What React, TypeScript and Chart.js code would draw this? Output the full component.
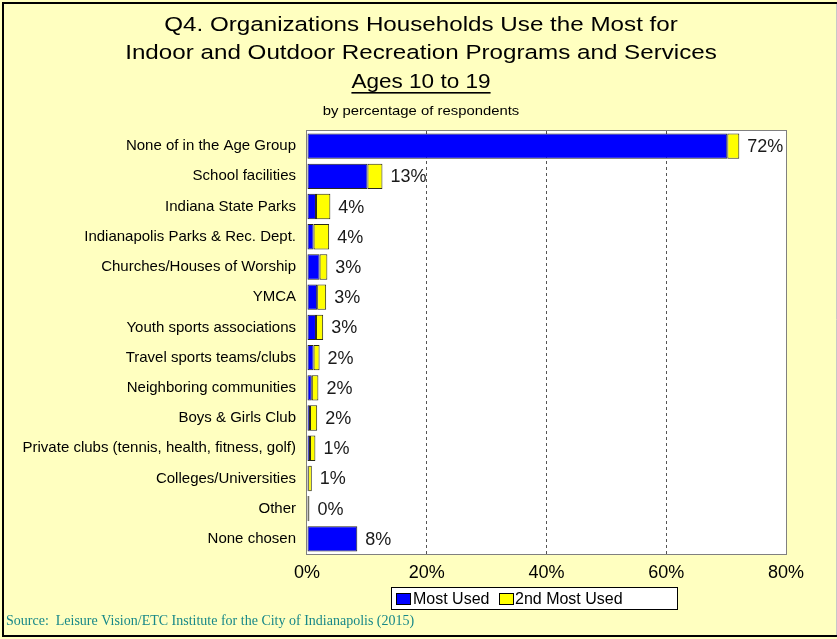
import React, { useEffect, useRef } from "react";
import { Chart, registerables } from "chart.js";

Chart.register(...registerables);

const categories = [
  "None of in the Age Group",
  "School facilities",
  "Indiana State Parks",
  "Indianapolis Parks & Rec. Dept.",
  "Churches/Houses of Worship",
  "YMCA",
  "Youth sports associations",
  "Travel sports teams/clubs",
  "Neighboring communities",
  "Boys & Girls Club",
  "Private clubs (tennis, health, fitness, golf)",
  "Colleges/Universities",
  "Other",
  "None chosen",
];
const mostUsed = [70.2, 10.1, 1.5, 1.1, 2.1, 1.7, 1.5, 1.1, 0.8, 0.5, 0.5, 0.2, 0.2, 8.4];
const secondMostUsed = [2.0, 2.5, 2.4, 2.6, 1.3, 1.5, 1.2, 1.0, 1.1, 1.2, 0.9, 0.6, 0.2, 0];
const xMin = 0;
const xMax = 80;
const xStep = 20;
const titleLines = [
  "Q4. Organizations Households Use the Most for",
  "Indoor and Outdoor Recreation Programs and Services",
];
const titleUnderlined = "Ages 10 to 19";
const subtitle = "by percentage of respondents";
const seriesNames = ["Most Used", "2nd Most Used"];
const sourceText = "Source:  Leisure Vision/ETC Institute for the City of Indianapolis (2015)";

const W = 837;
const H = 639;
const BG = "#FFFFC0";
const BLUE = "#0000FF";
const YELLOW = "#FFFF00";
const SANS = "'Liberation Sans', Arial, sans-serif";
const SERIF = "'Liberation Serif', 'Times New Roman', serif";

function stretchedText(ctx: CanvasRenderingContext2D, text: string, cx: number, baseline: number, sx: number) {
  ctx.save();
  ctx.translate(cx, baseline);
  ctx.scale(sx, 1);
  ctx.textAlign = "center";
  ctx.textBaseline = "alphabetic";
  ctx.fillText(text, 0, 0);
  const w = ctx.measureText(text).width * sx;
  ctx.restore();
  return w;
}

const decorPlugin = {
  id: "decor",
  beforeDraw(chart: any) {
    const ctx: CanvasRenderingContext2D = chart.ctx;
    const a = chart.chartArea;
    ctx.save();
    ctx.fillStyle = BG;
    ctx.fillRect(0, 0, W, H);
    ctx.strokeStyle = "#000";
    ctx.lineWidth = 2;
    ctx.beginPath();
    ctx.moveTo(W, 3);
    ctx.lineTo(3, 3);
    ctx.lineTo(3, 636);
    ctx.lineTo(W, 636);
    ctx.stroke();
    ctx.strokeStyle = "#c8c8c8";
    ctx.lineWidth = 1;
    ctx.beginPath();
    ctx.moveTo(W - 0.5, 4);
    ctx.lineTo(W - 0.5, 635);
    ctx.stroke();
    ctx.fillStyle = "#fff";
    ctx.fillRect(a.left, a.top, a.right - a.left, a.bottom - a.top);
    ctx.restore();
  },
  afterDatasetsDraw(chart: any) {
    const ctx: CanvasRenderingContext2D = chart.ctx;
    const a = chart.chartArea;
    ctx.save();
    ctx.strokeStyle = "#808080";
    ctx.lineWidth = 1;
    ctx.strokeRect(Math.round(a.left) - 0.5, Math.round(a.top) - 0.5, Math.round(a.right - a.left) + 1, Math.round(a.bottom - a.top) + 1);
    const m0 = chart.getDatasetMeta(0);
    const m1 = chart.getDatasetMeta(1);
    ctx.fillStyle = "#1a1a1a";
    ctx.font = `18px ${SANS}`;
    ctx.textAlign = "left";
    ctx.textBaseline = "middle";
    categories.forEach((_, i) => {
      const e0 = m0.data[i];
      const e1 = m1.data[i];
      const x = Math.max(e0.x, e1.x);
      const total = mostUsed[i] + secondMostUsed[i];
      ctx.fillText(`${Math.round(total)}%`, x + 8, e0.y + 1);
    });
    ctx.restore();
  },
  afterDraw(chart: any) {
    const ctx: CanvasRenderingContext2D = chart.ctx;
    ctx.save();
    ctx.fillStyle = "#000";
    ctx.font = `20.5px ${SANS}`;
    const cx = 421;
    stretchedText(ctx, titleLines[0], cx, 31, 1.18);
    stretchedText(ctx, titleLines[1], cx, 59, 1.18);
    const uw = stretchedText(ctx, titleUnderlined, cx, 88, 1.1);
    ctx.fillRect(cx - uw / 2, 92, uw, 1.6);
    ctx.font = `13.5px ${SANS}`;
    stretchedText(ctx, subtitle, cx, 115, 1.1);

    // legend
    ctx.fillStyle = "#fff";
    ctx.fillRect(391, 587, 287, 22);
    ctx.strokeStyle = "#000";
    ctx.lineWidth = 1;
    ctx.strokeRect(391.5, 587.5, 286, 22);
    const items = [
      { x: 396, color: BLUE, tx: 412 },
      { x: 499, color: YELLOW, tx: 514 },
    ];
    ctx.font = `16px ${SANS}`;
    ctx.textAlign = "left";
    ctx.textBaseline = "alphabetic";
    items.forEach((it, i) => {
      ctx.fillStyle = it.color;
      ctx.fillRect(it.x, 593, 14, 11);
      ctx.strokeStyle = "#000";
      ctx.strokeRect(it.x + 0.5, 593.5, 14, 11);
      ctx.fillStyle = "#000";
      ctx.fillText(seriesNames[i], it.tx + 1, 604);
    });

    // source
    ctx.fillStyle = "#178888";
    ctx.font = `14px ${SERIF}`;
    ctx.fillText(sourceText, 6, 625);
    ctx.restore();
  },
};

export default function App() {
  const ref = useRef<HTMLCanvasElement | null>(null);
  useEffect(() => {
    if (!ref.current) return;
    const chart = new Chart(ref.current, {
      type: "bar",
      data: {
        labels: categories,
        datasets: [
          {
            label: seriesNames[0],
            data: mostUsed,
            backgroundColor: BLUE,
            borderColor: "#2a2a1a",
            borderWidth: 1,
            borderSkipped: false,
          },
          {
            label: seriesNames[1],
            data: secondMostUsed,
            backgroundColor: YELLOW,
            borderColor: "#2a2a1a",
            borderWidth: (c: any) => (c.raw > 0 ? 1 : 0),
            borderSkipped: false,
          },
        ],
      },
      options: {
        indexAxis: "y",
        responsive: false,
        maintainAspectRatio: false,
        animation: false,
        devicePixelRatio: 1,
        datasets: { bar: { categoryPercentage: 1, barPercentage: 0.84 } },
        layout: { padding: { top: 131, left: 0, right: 51, bottom: 55 } },
        plugins: {
          legend: { display: false },
          title: { display: false },
          tooltip: { enabled: false },
        },
        scales: {
          x: {
            stacked: true,
            min: xMin,
            max: xMax,
            ticks: {
              stepSize: xStep,
              callback: (v: any) => `${v}%`,
              font: { size: 18, family: SANS },
              color: "#000",
              padding: 8,
              maxRotation: 0,
            },
            grid: {
              drawTicks: false,
              color: (c: any) => (c.tick && (c.tick.value === xMin || c.tick.value === xMax) ? "rgba(0,0,0,0)" : "#555"),
              lineWidth: 1,
            },
            border: { display: false, dash: [3, 3] },
            afterFit: (s: any) => {
              s.height = 30;
            },
          },
          y: {
            stacked: true,
            ticks: {
              font: { size: 15, family: SANS },
              color: "#000",
              padding: 11,
              autoSkip: false,
            },
            grid: { display: false, drawTicks: false },
            border: { display: false },
            afterFit: (s: any) => {
              s.width = 307;
            },
          },
        },
      } as any,
      plugins: [decorPlugin],
    });
    return () => chart.destroy();
  }, []);
  return (
    <div style={{ position: "fixed", left: 0, top: 0, width: W, height: H }}>
      <canvas ref={ref} width={W} height={H} style={{ display: "block", width: W, height: H }} />
    </div>
  );
}
